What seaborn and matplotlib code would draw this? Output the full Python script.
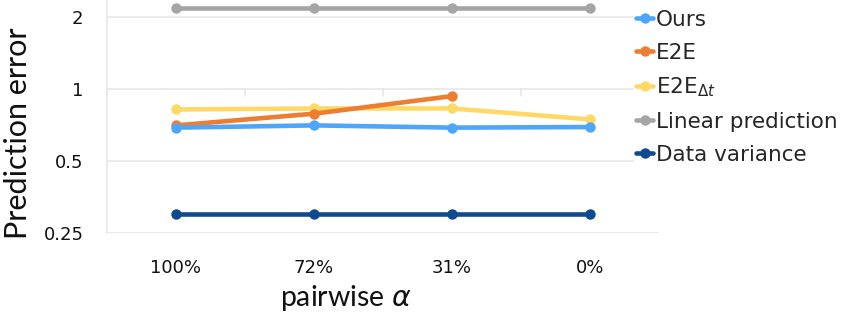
import numpy as np
import pandas as pd
import matplotlib
matplotlib.use("Agg")
import matplotlib.pyplot as plt
from matplotlib.lines import Line2D
import seaborn as sns

categories = ["100%", "72%", "31%", "0%"]
ours = [0.69, 0.705, 0.69, 0.694]
e2e = [0.705, 0.789, 0.935, np.nan]
e2e_dt = [0.822, 0.83, 0.83, 0.747]
linear_pred = [2.19, 2.19, 2.19, 2.19]
data_var = [0.299, 0.299, 0.299, 0.299]

series_names = ["Ours", "E2E", "E2E$_{\\Delta t}$", "Linear prediction", "Data variance"]
series_vals = [ours, e2e, e2e_dt, linear_pred, data_var]
colors = ["#4DA6FA", "#ED7D31", "#FFD966", "#A5A5A5", "#0E4A8E"]
yticks = [0.25, 0.5, 1, 2]
ytick_labels = ["0.25", "0.5", "1", "2"]

sns.set_style("white")
plt.rcParams["font.family"] = ["DejaVu Sans"]
plt.rcParams["mathtext.fontset"] = "dejavusans"

rows = []
for name, vals in zip(series_names, series_vals):
    for c, v in zip(categories, vals):
        rows.append({"series": name, "cat": c, "val": v})
df = pd.DataFrame(rows).dropna()
df["x"] = df["cat"].map({c: i for i, c in enumerate(categories)})

fig = plt.figure(figsize=(8.52, 3.18), dpi=100)
ax = fig.add_axes([107 / 852, 1 - 233 / 318, (659 - 107) / 852, 233 / 318])

for name, col in reversed(list(zip(series_names, colors))):
    sub = df[df["series"] == name]
    sns.lineplot(data=sub, x="x", y="val", ax=ax, color=col, linewidth=3.3,
                 marker="o", markersize=7.5, markeredgewidth=0, legend=False,
                 estimator=None, sort=False)

ax.set_yscale("log", base=2)
ax.set_ylim(0.25, 2.36)
ax.set_xlim(-0.5, 3.5)
ax.set_yticks(yticks)
ax.set_yticklabels(ytick_labels)
ax.minorticks_off()
ax.set_xticks(range(len(categories)))
ax.set_xticklabels(categories)
ax.tick_params(axis="both", length=0, labelsize=13, colors="#111111")
ax.tick_params(axis="x", pad=19)
ax.tick_params(axis="y", pad=17)
ax.yaxis.grid(True, color="#E6E6E6", linewidth=1.2)
ax.set_axisbelow(True)
for s in ["top", "right", "bottom"]:
    ax.spines[s].set_visible(False)
ax.spines["left"].set_color("#E6E6E6")
ax.spines["left"].set_linewidth(1.2)

for b in np.arange(-0.5, len(categories), 1.0):
    ax.plot([b, b], [1, 1 * 2 ** (-7 / 72)], color="#E6E6E6", linewidth=1.2,
            zorder=0.5, clip_on=False)

ax.set_xlabel("pairwise $\\alpha$", fontsize=20.5, color="#111111",
              family=["Lato", "DejaVu Sans"], va="center")
ax.xaxis.set_label_coords((346 - 107) / 552, (233 - 298) / 233)
ax.set_ylabel("Prediction error", fontsize=22, color="#111111",
              family=["Lato", "DejaVu Sans"], va="center")
ax.yaxis.set_label_coords((18 - 107) / 552, (233 - 133) / 233)

handles = [Line2D([0], [0], color=c, linewidth=3.3, marker="o", markersize=7.5,
                  markeredgewidth=0) for c in colors]
leg = fig.legend(handles, series_names, loc="upper left",
                 bbox_to_anchor=(634 / 852, 1 - 7.5 / 318), frameon=True,
                 fontsize=15.5, handlelength=0.8, handletextpad=0.1,
                 labelspacing=0.6, borderpad=0.1, borderaxespad=0)
leg.get_frame().set_facecolor("white")
leg.get_frame().set_edgecolor("white")
leg.get_frame().set_alpha(1)

fig.savefig("out.png", dpi=100)
